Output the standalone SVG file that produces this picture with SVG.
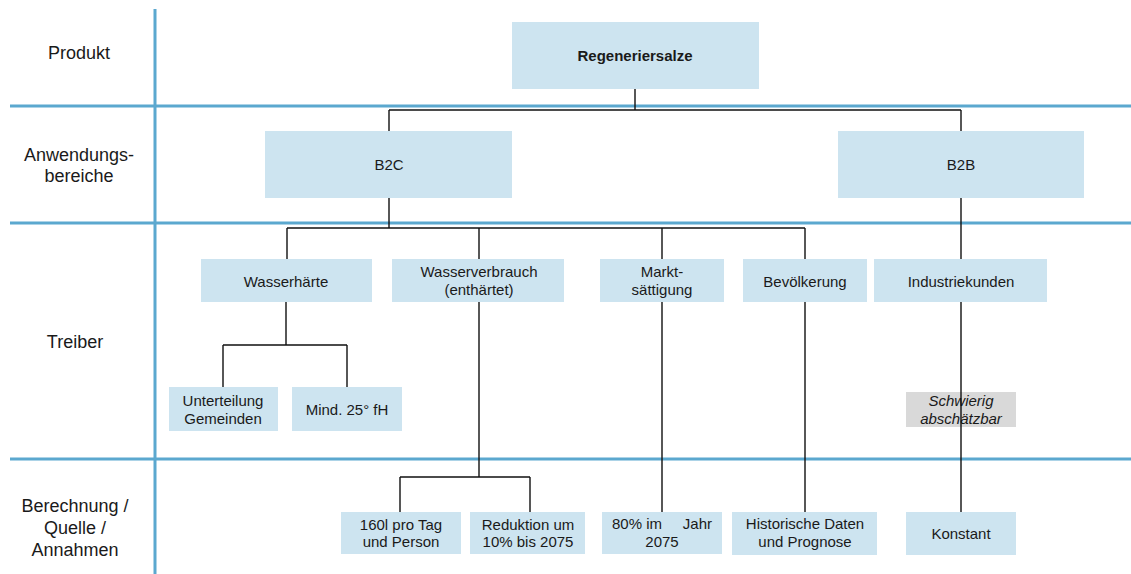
<svg xmlns="http://www.w3.org/2000/svg" width="1131" height="574" viewBox="0 0 1131 574">
  <style>
    .grid { stroke: #5ba8cf; stroke-width: 3; fill: none; }
    .box { fill: #cde4f0; }
    .gray { fill: #d9d9d9; }
    .conn { stroke: #111; stroke-width: 1.4; fill: none; }
    text { font-family: "Liberation Sans", Arial, sans-serif; fill: #1a1a1a; text-anchor: middle; }
    .row { font-size: 18px; }
    .lbl { font-size: 15px; }
    .bold { font-weight: bold; }
    .it { font-style: italic; }
  </style>
  <rect width="1131" height="574" fill="#ffffff"/>
  <g id="grid">
    <line class="grid" x1="155" y1="9" x2="155" y2="574"/>
    <line class="grid" x1="10" y1="106" x2="1131" y2="106"/>
    <line class="grid" x1="10" y1="223" x2="1131" y2="223"/>
    <line class="grid" x1="10" y1="459" x2="1131" y2="459"/>
  </g>
  <g id="row-labels">
    <text class="row" x="79" y="59">Produkt</text>
    <text class="row" x="79" y="161">Anwendungs-</text>
    <text class="row" x="79" y="182">bereiche</text>
    <text class="row" x="75" y="348">Treiber</text>
    <text class="row" x="75" y="512">Berechnung /</text>
    <text class="row" x="75" y="534">Quelle /</text>
    <text class="row" x="75" y="556">Annahmen</text>
  </g>
  <g id="n-regeneriersalze">
    <rect class="box" x="512" y="22" width="247" height="67"/>
    <text class="lbl bold" x="635" y="61">Regeneriersalze</text>
  </g>
  <g id="n-b2c">
    <rect class="box" x="265" y="131" width="247" height="67"/>
    <text class="lbl" x="389" y="170">B2C</text>
  </g>
  <g id="n-b2b">
    <rect class="box" x="838" y="131" width="246" height="67"/>
    <text class="lbl" x="961" y="170">B2B</text>
  </g>
  <g id="n-wasserhaerte">
    <rect class="box" x="201" y="259" width="171" height="43"/>
    <text class="lbl" x="286" y="287">Wasserhärte</text>
  </g>
  <g id="n-wasserverbrauch">
    <rect class="box" x="392" y="259" width="172" height="43"/>
    <text class="lbl" x="479" y="277">Wasserverbrauch</text>
    <text class="lbl" x="479" y="295">(enthärtet)</text>
  </g>
  <g id="n-marktsaettigung">
    <rect class="box" x="600" y="259" width="124" height="43"/>
    <text class="lbl" x="662" y="277">Markt-</text>
    <text class="lbl" x="662" y="295">sättigung</text>
  </g>
  <g id="n-bevoelkerung">
    <rect class="box" x="743" y="259" width="124" height="43"/>
    <text class="lbl" x="805" y="287">Bevölkerung</text>
  </g>
  <g id="n-industriekunden">
    <rect class="box" x="874" y="259" width="173" height="43"/>
    <text class="lbl" x="961" y="287">Industriekunden</text>
  </g>
  <g id="n-unterteilung">
    <rect class="box" x="169" y="387" width="109" height="44"/>
    <text class="lbl" x="223" y="406">Unterteilung</text>
    <text class="lbl" x="223" y="424">Gemeinden</text>
  </g>
  <g id="n-mind25">
    <rect class="box" x="292" y="387" width="110" height="44"/>
    <text class="lbl" x="347" y="415">Mind. 25° fH</text>
  </g>
  <g id="n-schwierig">
    <rect class="gray" x="906" y="392" width="110" height="35"/>
    <text class="lbl it" x="961" y="406">Schwierig</text>
    <text class="lbl it" x="961" y="424">abschätzbar</text>
  </g>
  <g id="n-160l">
    <rect class="box" x="341" y="512" width="120" height="42"/>
    <text class="lbl" x="401" y="530">160l pro Tag</text>
    <text class="lbl" x="401" y="547">und Person</text>
  </g>
  <g id="n-reduktion">
    <rect class="box" x="470" y="512" width="115" height="42"/>
    <text class="lbl" x="528" y="530">Reduktion um</text>
    <text class="lbl" x="528" y="547">10% bis 2075</text>
  </g>
  <g id="n-80prozent">
    <rect class="box" x="602" y="512" width="120" height="42"/>
    <text class="lbl" x="662" y="529" style="white-space:pre">80% im     Jahr</text>
    <text class="lbl" x="662" y="547">2075</text>
  </g>
  <g id="n-historische">
    <rect class="box" x="732" y="512" width="145" height="43"/>
    <text class="lbl" x="805" y="529">Historische Daten</text>
    <text class="lbl" x="805" y="547">und Prognose</text>
  </g>
  <g id="n-konstant">
    <rect class="box" x="906" y="512" width="110" height="43"/>
    <text class="lbl" x="961" y="539">Konstant</text>
  </g>
  <g id="connectors">
    <path class="conn" d="M635 89 V110 M389 110 H961 M389 110 V131 M961 110 V131"/>
    <path class="conn" d="M389 198 V228 M287 228 H805 M287 228 V259 M479 228 V259 M662 228 V259 M805 228 V259"/>
    <path class="conn" d="M961 198 V259"/>
    <path class="conn" d="M286 302 V345 M223 345 H347 M223 345 V387 M347 345 V387"/>
    <path class="conn" d="M479 302 V477 M400 477 H530 M400 477 V512 M530 477 V512"/>
    <path class="conn" d="M662 302 V512 M805 302 V512 M961 302 V512"/>
  </g>
</svg>
